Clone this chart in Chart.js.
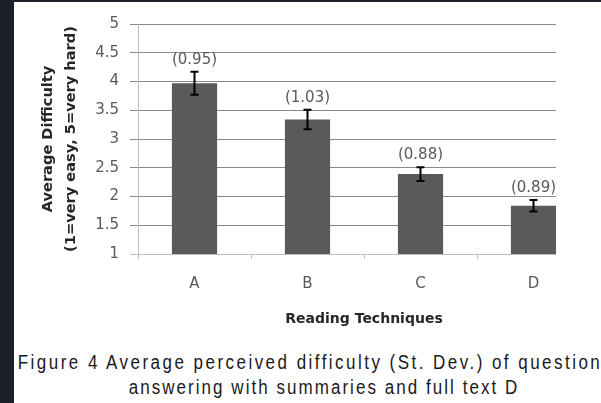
<!DOCTYPE html>
<html><head><meta charset="utf-8">
<script src="https://cdn.jsdelivr.net/npm/chart.js@4"></script>
<style>
html,body{margin:0;padding:0;background:#1c2029;width:601px;height:403px;overflow:hidden;}
#panel{position:absolute;left:14px;top:2px;width:587px;height:401px;background:#fff;}
#clip{position:absolute;left:0;top:0;width:542px;height:330px;overflow:hidden;}
#clip canvas{position:absolute;left:0;top:0;}
.cap{position:absolute;white-space:nowrap;font-family:"Liberation Sans",Arial,sans-serif;font-size:20px;line-height:24px;color:#1a1a1a;transform:translateX(-50%) scaleX(0.85);letter-spacing:2.9px;}
</style></head>
<body>
<div id="panel">
  <div id="clip"><canvas id="c" width="587" height="326"></canvas></div>
  <div class="cap" style="left:296px;top:348px;">Figure 4 Average perceived difficulty (St. Dev.) of question</div>
  <div class="cap" style="left:310px;top:373px;letter-spacing:2.4px;">answering with summaries and full text D</div>
</div>
<script>
const categories = ['A', 'B', 'C', 'D'];
const meanDifficulty = [3.97, 3.34, 2.39, 1.84];
const errorHalf = [0.20, 0.17, 0.12, 0.10];
const sdLabels = ['(0.95)', '(1.03)', '(0.88)', '(0.89)'];
const yTicks = [1, 1.5, 2, 2.5, 3, 3.5, 4, 4.5, 5];
const yTickLabels = ['1', '1.5', '2', '2.5', '3', '3.5', '4', '4.5', '5'];
const yTitle = ['Average Difficulty', '(1=very easy, 5=very hard)'];
const xTitle = 'Reading Techniques';

const FONT = '"DejaVu Sans", sans-serif';

const errPlugin = {
  id: 'errBars',
  afterDatasetsDraw(chart) {
    const ctx = chart.ctx, y = chart.scales.y, meta = chart.getDatasetMeta(0);
    ctx.save();
    meta.data.forEach((bar, i) => {
      const v = meanDifficulty[i], e = errorHalf[i];
      const yt = y.getPixelForValue(v + e), yb = y.getPixelForValue(v - e);
      const x = bar.x;
      ctx.strokeStyle = '#000';
      ctx.lineWidth = 2;
      ctx.beginPath();
      ctx.moveTo(x, yt); ctx.lineTo(x, yb);
      ctx.moveTo(x - 4, yt); ctx.lineTo(x + 4, yt);
      ctx.moveTo(x - 4, yb); ctx.lineTo(x + 4, yb);
      ctx.stroke();
      ctx.fillStyle = '#595959';
      ctx.font = '15px ' + FONT;
      ctx.textAlign = 'center';
      ctx.textBaseline = 'middle';
      ctx.fillText(sdLabels[i], x, yt - 12);
    });
    ctx.restore();
  }
};

new Chart(document.getElementById('c'), {
  type: 'bar',
  data: {
    labels: categories,
    datasets: [{
      data: meanDifficulty,
      backgroundColor: '#5a5a5a',
      borderWidth: 0,
      categoryPercentage: 0.4,
      barPercentage: 1.0
    }]
  },
  options: {
    responsive: false,
    animation: false,
    layout: { padding: { top: 22, right: 11, left: 0, bottom: 0 } },
    plugins: { legend: { display: false }, tooltip: { enabled: false } },
    scales: {
      x: {
        offset: true,
        afterFit(s) { s.height = 74; },
        grid: { display: true, drawOnChartArea: false, offset: true, tickLength: 5, color: '#bfbfbf' },
        border: { color: '#bfbfbf' },
        ticks: { padding: 16, color: '#595959', font: { family: FONT, size: 15 } },
        title: { display: true, text: xTitle, color: '#262626', font: { family: FONT, size: 14, weight: 'bold' }, padding: { top: 0, bottom: 0 } }
      },
      y: {
        min: 1, max: 5,
        afterBuildTicks(s) { s.ticks = yTicks.map(v => ({ value: v })); },
        afterFit(s) { s.width = 124; },
        grid: {
          tickLength: 8,
          color: (c) => (c.tick && c.tick.value === 1) ? '#bfbfbf' : '#8a8a8a'
        },
        border: { color: '#bfbfbf' },
        ticks: {
          padding: 11, color: '#595959', font: { family: FONT, size: 15 },
          callback: (v) => yTickLabels[yTicks.indexOf(v)]
        },
        title: { display: true, text: yTitle, color: '#262626', font: { family: FONT, size: 14.6, weight: 'bold', lineHeight: 23 / 14.6 }, padding: { top: 23, bottom: 0 } }
      }
    }
  },
  plugins: [errPlugin]
});
</script>
</body></html>
